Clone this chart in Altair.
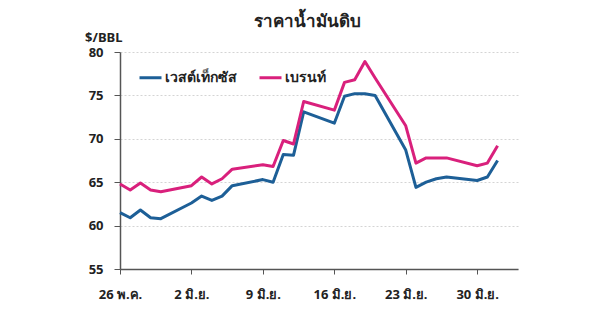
import altair as alt
import pandas as pd

# Dates (calendar days with trading values)
dates = [
    "2025-05-26", "2025-05-27", "2025-05-28", "2025-05-29", "2025-05-30",
    "2025-06-02", "2025-06-03", "2025-06-04", "2025-06-05", "2025-06-06",
    "2025-06-09", "2025-06-10", "2025-06-11", "2025-06-12", "2025-06-13",
    "2025-06-16", "2025-06-17", "2025-06-18", "2025-06-19", "2025-06-20",
    "2025-06-23", "2025-06-24", "2025-06-25", "2025-06-26", "2025-06-27",
    "2025-06-30", "2025-07-01", "2025-07-02",
]
wti = [
    61.5, 60.9, 61.8, 60.9, 60.8,
    62.6, 63.4, 62.9, 63.4, 64.6,
    65.3, 65.0, 68.2, 68.1, 73.1,
    71.8, 74.9, 75.2, 75.2, 75.0,
    68.7, 64.4, 65.0, 65.4, 65.6,
    65.2, 65.6, 67.5,
]
brent = [
    64.8, 64.1, 64.9, 64.1, 63.9,
    64.6, 65.6, 64.8, 65.4, 66.5,
    67.0, 66.8, 69.8, 69.4, 74.3,
    73.3, 76.5, 76.8, 78.9, 77.0,
    71.5, 67.2, 67.8, 67.8, 67.8,
    66.9, 67.2, 69.2,
]
series_names = ["เวสต์เท็กซัส", "เบรนท์"]
series_colors = ["#1d5f97", "#d9207c"]

tick_dates = ["2025-05-26", "2025-06-02", "2025-06-09", "2025-06-16", "2025-06-23", "2025-06-30"]
tick_labels = ["26 พ.ค.", "2 มิ.ย.", "9 มิ.ย.", "16 มิ.ย.", "23 มิ.ย.", "30 มิ.ย."]
y_ticks = [55, 60, 65, 70, 75, 80]

rows = []
for d, v in zip(dates, wti):
    rows.append({"date": d, "value": v, "series": series_names[0]})
for d, v in zip(dates, brent):
    rows.append({"date": d, "value": v, "series": series_names[1]})
df = pd.DataFrame(rows)


def dt(s):
    y, m, d = (int(p) for p in s.split("-"))
    return alt.DateTime(year=y, month=m, date=d, utc=True)


label_map = ", ".join(f"'{d}': '{l}'" for d, l in zip(tick_dates, tick_labels))
label_expr = "{" + label_map + "}[utcFormat(datum.value, '%Y-%m-%d')]"

FONT = "Noto Sans"

chart = (
    alt.Chart(df)
    .mark_line(strokeWidth=3, strokeJoin="round")
    .encode(
        x=alt.X(
            "date:T",
            scale=alt.Scale(type="utc", domain=[dt("2025-05-26"), dt("2025-07-04")]),
            axis=alt.Axis(
                values=[dt(d) for d in tick_dates],
                labelExpr=label_expr,
                title=None,
                grid=False,
                tickSize=5,
                labelPadding=14,
                labelFontSize=13,
                labelFontWeight="bold",
                labelColor="#222222",
                labelFont=FONT,
                domainColor="#555555",
                domainWidth=1.5,
                tickColor="#555555",
                labelAlign="center",
            ),
        ),
        y=alt.Y(
            "value:Q",
            scale=alt.Scale(domain=[55, 80], nice=False, zero=False),
            axis=alt.Axis(
                values=y_ticks,
                title="$/BBL",
                titleAngle=0,
                titleX=2,
                titleY=-15,
                titleAlign="right",
                titleBaseline="middle",
                titleFontSize=13,
                titleFontWeight="bold",
                titleColor="#222222",
                titleFont=FONT,
                labelFontSize=13,
                labelFontWeight="bold",
                labelColor="#222222",
                labelFont=FONT,
                labelPadding=11,
                tickSize=6,
                tickColor="#555555",
                domainColor="#555555",
                domainWidth=1.5,
                gridColor="#d4d4d4",
                gridDash=[2, 2],
                gridWidth=1,
            ),
        ),
        color=alt.Color(
            "series:N",
            scale=alt.Scale(domain=series_names, range=series_colors),
            legend=alt.Legend(
                title=None,
                orient="none",
                legendX=18,
                legendY=13,
                direction="horizontal",
                symbolType="stroke",
                symbolSize=484,
                symbolStrokeWidth=3,
                labelFontSize=14,
                labelFontWeight="bold",
                labelColor="#222222",
                labelFont=FONT,
                labelOffset=2,
                columnPadding=16,
            ),
        ),
    )
    .properties(
        width=398,
        height=217,
        autosize=alt.AutoSizeParams(type="none"),
        padding={"left": 120, "top": 52, "right": 82, "bottom": 45},
        title=alt.TitleParams(
            "ราคาน้ำมันดิบ",
            anchor="middle",
            dx=-12,
            fontSize=17,
            fontWeight="bold",
            color="#222222",
            font=FONT,
            offset=0,
        ),
    )
    .configure_view(stroke=None)
)

chart.save("out.html", embed_options={"renderer": "svg", "actions": False})
